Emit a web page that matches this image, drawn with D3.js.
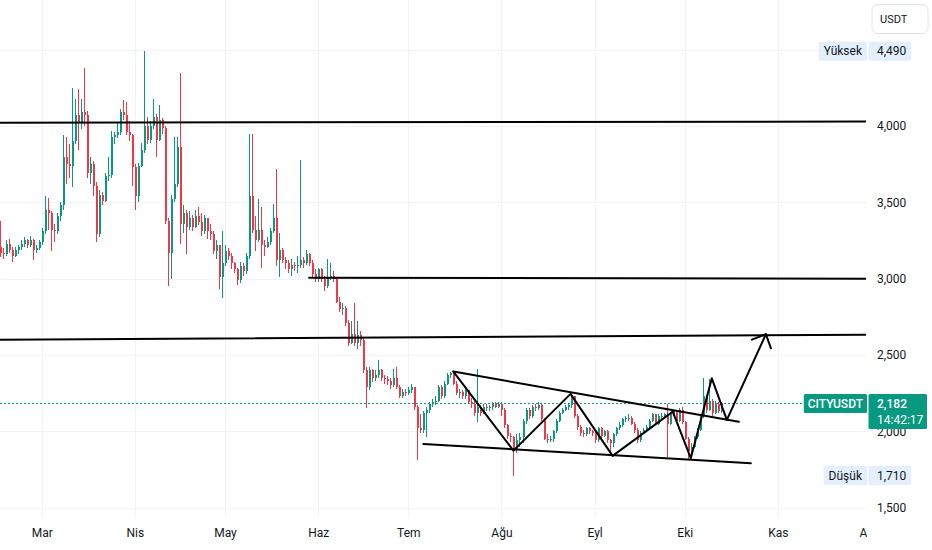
<!DOCTYPE html>
<html>
<head>
<meta charset="utf-8">
<script src="https://cdn.jsdelivr.net/npm/d3@7"></script>
<style>
    html, body { margin: 0; padding: 0; background: #ffffff; }
    svg { display: block; font-family: Roboto, "Noto Sans", sans-serif; }
</style>
</head>
<body>
<div id="chart"></div>
<script>
// ---- data (daily candles, prices in USDT) ----
const symbol = "CITYUSDT";
const quoteCurrency = "USDT";
const countdown = "14:42:17";
const firstDay = "2024-02-16";
const lastAxisDay = "2024-12-01";
const firstOpen = 3.21;

const closes = [
    // Feb 16-29
    3.17, 3.16, 3.23, 3.19, 3.15, 3.19, 3.21, 3.23, 3.25, 3.22, 3.25, 3.19, 3.20, 3.24,
    // Mar
    3.31, 3.45, 3.43, 3.32, 3.31, 3.41, 3.48, 3.80, 3.75, 3.74, 3.90, 4.07, 4.02, 4.09, 4.07, 3.69,
    3.75, 3.61, 3.29, 3.55, 3.51, 3.67, 3.68, 3.93, 3.94, 3.96, 4.09, 4.07, 3.96, 3.94, 3.73,
    // Apr
    3.54, 3.74, 3.84, 4.00, 3.91, 4.00, 4.06, 3.91, 4.04, 3.99, 3.38, 3.17, 3.52, 3.62, 3.86,
    3.36, 3.43, 3.34, 3.40, 3.34, 3.41, 3.37, 3.31, 3.40, 3.31, 3.29, 3.18, 3.22, 3.01, 3.10,
    // May
    3.18, 3.15, 3.10, 3.06, 2.99, 3.08, 3.05, 3.15, 3.54, 3.32, 3.25, 3.32, 3.22, 3.21, 3.24, 3.31,
    3.40, 3.12, 3.19, 3.12, 3.10, 3.06, 3.09, 3.08, 3.09, 3.12, 3.10, 3.16, 3.10, 3.03, 3.00,
    // Jun
    3.06, 3.00, 2.95, 3.01, 3.02, 3.00, 2.85, 2.80, 2.81, 2.71, 2.58, 2.64, 2.58, 2.63, 2.60,
    2.40, 2.29, 2.40, 2.35, 2.37, 2.40, 2.35, 2.34, 2.33, 2.30, 2.35, 2.29, 2.23, 2.26, 2.25,
    // Jul
    2.27, 2.29, 2.16, 2.02, 2.01, 2.12, 2.14, 2.18, 2.19, 2.20, 2.29, 2.23, 2.31, 2.37, 2.38, 2.31,
    2.25, 2.26, 2.23, 2.27, 2.19, 2.18, 2.12, 2.16, 2.12, 2.16, 2.15, 2.16, 2.18, 2.16, 2.18,
    // Aug
    2.14, 2.04, 1.97, 1.96, 1.88, 1.94, 1.96, 2.07, 2.14, 2.10, 2.16, 2.15, 2.17, 2.08, 1.95, 1.94,
    1.95, 2.00, 2.07, 2.12, 2.14, 2.16, 2.17, 2.23, 2.10, 2.03, 1.99, 1.98, 2.02, 2.00, 1.99,
    // Sep
    1.94, 2.02, 1.97, 2.00, 1.94, 1.92, 1.98, 2.02, 2.04, 2.08, 2.085, 2.09, 2.05, 2.01, 1.94,
    1.99, 2.01, 2.03, 2.07, 2.11, 2.05, 2.10, 2.10, 2.11, 2.05, 2.11, 2.13, 2.07, 2.14, 2.06,
    // Oct 1-13
    1.95, 1.87, 1.90, 1.96, 2.01, 2.10, 2.23, 2.14, 2.20, 2.12, 2.18, 2.13, 2.182
];

const highs = [
    3.38, 3.20, 3.25, 3.26, 3.21, 3.21, 3.22, 3.25, 3.27, 3.26, 3.28, 3.26, 3.22, 3.25,
    3.33, 3.54, 3.53, 3.44, 3.36, 3.43, 3.50, 3.94, 3.93, 3.88, 4.25, 4.18, 4.24, 4.18, 4.38, 4.10,
    3.80, 3.77, 3.63, 3.58, 3.57, 3.69, 3.80, 3.97, 3.96, 4.02, 4.11, 4.17, 4.16, 4.03, 3.95,
    3.75, 3.76, 3.89, 4.49, 4.06, 4.03, 4.18, 4.08, 4.14, 4.05, 4.00, 3.40, 3.55, 3.93, 3.93,
    4.35, 3.48, 3.45, 3.44, 3.42, 3.45, 3.47, 3.43, 3.42, 3.38, 3.36, 3.31, 3.25, 3.22, 3.31,
    3.22, 3.20, 3.17, 3.11, 3.07, 3.11, 3.10, 3.17, 3.95, 3.95, 3.41, 3.52, 3.47, 3.25, 3.27, 3.33,
    3.49, 3.72, 3.30, 3.20, 3.14, 3.12, 3.13, 3.11, 3.15, 3.78, 3.14, 3.19, 3.17, 3.12, 3.06,
    3.07, 3.07, 3.02, 3.13, 3.10, 3.05, 3.01, 2.88, 2.84, 2.82, 2.73, 2.72, 2.84, 2.72, 2.66,
    2.61, 2.42, 2.42, 2.41, 2.40, 2.47, 2.41, 2.37, 2.36, 2.35, 2.41, 2.42, 2.30, 2.28, 2.28,
    2.29, 2.31, 2.29, 2.17, 2.11, 2.13, 2.16, 2.19, 2.21, 2.23, 2.30, 2.30, 2.33, 2.38, 2.39, 2.39,
    2.33, 2.28, 2.27, 2.29, 2.27, 2.22, 2.20, 2.41, 2.17, 2.18, 2.18, 2.17, 2.19, 2.19, 2.19,
    2.19, 2.15, 2.05, 1.99, 1.97, 1.98, 1.99, 2.08, 2.15, 2.15, 2.17, 2.18, 2.19, 2.18, 2.09, 1.98,
    1.97, 2.01, 2.08, 2.13, 2.15, 2.17, 2.18, 2.25, 2.23, 2.11, 2.04, 2.01, 2.03, 2.03, 2.01,
    2.00, 2.03, 2.03, 2.01, 2.01, 1.95, 1.99, 2.03, 2.06, 2.09, 2.10, 2.11, 2.10, 2.06, 2.02,
    2.00, 2.02, 2.04, 2.08, 2.12, 2.11, 2.11, 2.12, 2.12, 2.18, 2.12, 2.14, 2.14, 2.15, 2.16,
    2.07, 1.96, 1.92, 1.97, 2.02, 2.11, 2.35, 2.24, 2.34, 2.21, 2.20, 2.19, 2.19
];

const lows = [
    3.14, 3.13, 3.15, 3.17, 3.11, 3.14, 3.16, 3.19, 3.21, 3.20, 3.21, 3.12, 3.17, 3.19,
    3.22, 3.29, 3.32, 3.18, 3.24, 3.29, 3.38, 3.45, 3.62, 3.66, 3.60, 3.88, 3.84, 3.98, 4.00, 3.66,
    3.62, 3.54, 3.24, 3.27, 3.48, 3.50, 3.64, 3.66, 3.88, 3.92, 3.94, 4.04, 3.94, 3.90, 3.61,
    3.45, 3.50, 3.73, 3.82, 3.88, 3.89, 3.98, 3.80, 3.90, 3.95, 3.36, 2.95, 3.00, 3.50, 3.60,
    3.23, 3.30, 3.16, 3.32, 3.31, 3.33, 3.35, 3.28, 3.29, 3.26, 3.25, 3.16, 3.13, 2.93, 2.87,
    3.08, 3.12, 3.06, 3.04, 2.96, 2.97, 3.02, 3.03, 3.13, 3.30, 3.18, 3.24, 3.07, 3.15, 3.20, 3.22,
    3.30, 3.08, 3.01, 3.10, 3.06, 3.04, 3.02, 3.05, 3.04, 3.07, 3.07, 3.09, 3.08, 3.01, 2.98,
    2.98, 2.98, 2.92, 2.94, 2.99, 2.98, 2.84, 2.78, 2.76, 2.69, 2.56, 2.57, 2.56, 2.54, 2.56,
    2.38, 2.15, 2.27, 2.32, 2.33, 2.35, 2.33, 2.31, 2.30, 2.28, 2.29, 2.28, 2.22, 2.22, 2.23,
    2.24, 2.25, 2.14, 1.81, 1.99, 1.99, 1.96, 2.12, 2.16, 2.17, 2.19, 2.21, 2.22, 2.30, 2.35, 2.30,
    2.24, 2.22, 2.21, 2.21, 2.18, 2.15, 2.10, 2.06, 2.10, 2.11, 2.13, 2.13, 2.14, 2.15, 2.15,
    2.10, 2.02, 1.95, 1.93, 1.71, 1.86, 1.90, 1.92, 2.05, 2.08, 2.09, 2.13, 2.14, 2.07, 1.94, 1.92,
    1.93, 1.93, 1.99, 2.06, 2.11, 2.13, 2.14, 2.15, 2.09, 2.01, 1.97, 1.96, 1.97, 1.98, 1.97,
    1.92, 1.93, 1.95, 1.96, 1.92, 1.84, 1.90, 1.97, 2.01, 2.03, 2.06, 2.07, 2.04, 1.99, 1.92,
    1.93, 1.98, 2.00, 2.02, 2.06, 2.04, 2.04, 2.08, 2.09, 1.83, 2.04, 2.10, 2.06, 2.06, 2.05,
    1.94, 1.82, 1.85, 1.89, 1.95, 2.00, 2.09, 2.12, 2.13, 2.10, 2.11, 2.12, 2.12
];

const monthTicks = ["2024-03-01", "2024-04-01", "2024-05-01", "2024-06-01", "2024-07-01",
    "2024-08-01", "2024-09-01", "2024-10-01", "2024-11-01", "2024-12-01"];
const monthLabels = ["Mar", "Nis", "May", "Haz", "Tem", "Ağu", "Eyl", "Eki", "Kas", "Ara"];
const priceTicks = [1.5, 2.0, 2.5, 3.0, 3.5, 4.0, 4.5];
const priceDomain = [1.5, 4.0];

// hand drawn lines, anchored as [day, price]
const levelLines = [
    [["2024-02-16", 4.022], ["2024-12-03", 4.029]],
    [["2024-05-29", 3.006], ["2024-12-03", 3.000]],
    [["2024-02-16", 2.600], ["2024-12-03", 2.633]]
];
const wedgeTop = [["2024-07-16", 2.391], ["2024-10-19", 2.063]];
const wedgeBottom = [["2024-07-06", 1.917], ["2024-10-23", 1.791]];
const zigzag = [["2024-07-16", 2.391], ["2024-08-05", 1.873], ["2024-08-24", 2.245],
    ["2024-09-07", 1.839], ["2024-09-27", 2.129], ["2024-10-03", 1.824],
    ["2024-10-10", 2.347], ["2024-10-15", 2.075], ["2024-10-28", 2.636]];

const highLabel = "Yüksek";
const lowLabel = "Düşük";

const parseDay = d3.utcParse("%Y-%m-%d");
const priceFormat = d3.formatLocale({
    decimal: ",", thousands: ".", grouping: [3], currency: ["", ""]
}).format(".3f");

class CandleChartCreator {
    constructor(element) {
        this.width = 932;
        this.height = 550;
        this.plotWidth = 866;
        this.plotHeight = 518;
        this.pxPerDay = 3.005;
        this.up = "#089981";
        this.down = "#f23645";
        this.textColor = "#131722";
        this.wrapperElement = d3.select(element);

        var start = parseDay(firstDay);
        this.candles = closes.map((c, i) => ({
            date: d3.utcDay.offset(start, i),
            open: i === 0 ? firstOpen : closes[i - 1],
            high: highs[i],
            low: lows[i],
            close: c
        }));
        return this;
    }

    /**
     *  Builds the whole chart: grid, candles, drawings, axes and labels
     */
    create() {
        this.canvas = this.mainCanvas();
        this.makeScales();
        this.addGrid();
        this.plot = this.plotGroup();
        this.addCandles();
        this.addPriceLine();
        this.addDrawings();
        this.addPriceAxis();
        this.addTimeAxis();
        this.addPriceLabels();
        this.addCurrencyButton();
        return this;
    }

    mainCanvas() {
        return this.wrapperElement.append("svg")
            .attr("width", this.width)
            .attr("height", this.height)
            .attr("viewBox", "0 0 " + this.width + " " + this.height);
    }

    makeScales() {
        var start = parseDay(firstDay);
        var end = parseDay(lastAxisDay);
        var days = d3.utcDay.count(start, end);
        this.x = d3.scaleUtc()
            .domain([start, end])
            .range([-0.37, -0.37 + days * this.pxPerDay]);
        this.y = d3.scaleLinear()
            .domain(priceDomain)
            .range([507.6, 126]);
    }

    /**
     * Clipped group for everything drawn inside the pane
     */
    plotGroup() {
        this.canvas.append("clipPath").attr("id", "pane")
            .append("rect")
            .attr("width", this.plotWidth)
            .attr("height", this.plotHeight);
        return this.canvas.append("g").attr("clip-path", "url(#pane)");
    }

    addGrid() {
        var grid = this.canvas.append("g").attr("stroke", "#f0f3fa").attr("stroke-width", 1);
        grid.selectAll(".vgrid")
            .data(monthTicks.filter((d) => this.x(parseDay(d)) < this.plotWidth))
            .enter()
            .append("line")
            .attr("x1", (d) => Math.round(this.x(parseDay(d))) + 0.5)
            .attr("x2", (d) => Math.round(this.x(parseDay(d))) + 0.5)
            .attr("y1", 0)
            .attr("y2", this.plotHeight);
        grid.selectAll(".hgrid")
            .data(priceTicks)
            .enter()
            .append("line")
            .attr("x1", 0)
            .attr("x2", this.plotWidth)
            .attr("y1", (d) => Math.round(this.y(d)) + 0.5)
            .attr("y2", (d) => Math.round(this.y(d)) + 0.5);
    }

    addCandles() {
        var color = (d) => d.close >= d.open ? this.up : this.down;
        var top = (d) => Math.round(this.y(Math.max(d.open, d.close)));
        var bottom = (d) => Math.round(this.y(Math.min(d.open, d.close)));
        var candle = this.plot.selectAll(".candle")
            .data(this.candles)
            .enter()
            .append("g")
            .attr("class", "candle")
            .attr("shape-rendering", "crispEdges")
            .attr("fill", color);

        //Wick
        candle.append("rect")
            .attr("x", (d) => Math.round(this.x(d.date)))
            .attr("width", 1)
            .attr("y", (d) => Math.round(this.y(Math.max(d.high, d.open, d.close))))
            .attr("height", (d) => Math.max(1, Math.round(this.y(Math.min(d.low, d.open, d.close)))
                - Math.round(this.y(Math.max(d.high, d.open, d.close)))));

        //Body
        candle.append("rect")
            .attr("x", (d) => Math.round(this.x(d.date)) - 0.5)
            .attr("width", 2)
            .attr("y", top)
            .attr("height", (d) => Math.max(1, bottom(d) - top(d)));
    }

    addPriceLine() {
        var last = this.candles[this.candles.length - 1];
        this.plot.append("line")
            .attr("x1", 0)
            .attr("x2", this.plotWidth)
            .attr("y1", Math.round(this.y(last.close)) + 0.5)
            .attr("y2", Math.round(this.y(last.close)) + 0.5)
            .attr("stroke", this.up)
            .attr("stroke-width", 1)
            .attr("shape-rendering", "crispEdges")
            .attr("stroke-dasharray", "2,2");
    }

    point(p) {
        return [this.x(parseDay(p[0])), this.y(p[1])];
    }

    addDrawings() {
        var line = d3.line();
        var layer = this.plot.append("g")
            .attr("fill", "none")
            .attr("stroke", "#000000")
            .attr("stroke-width", 2)
            .attr("stroke-linecap", "round")
            .attr("stroke-linejoin", "round");

        levelLines.concat([wedgeTop, wedgeBottom]).forEach((seg) => {
            layer.append("path").attr("d", line(seg.map((p) => this.point(p))));
        });

        var pts = zigzag.map((p) => this.point(p));
        layer.append("path").attr("d", line(pts));

        // arrow head on the last leg
        var a = pts[pts.length - 2];
        var b = pts[pts.length - 1];
        var ang = Math.atan2(b[1] - a[1], b[0] - a[0]) + Math.PI;
        var len = 15;
        var spread = 0.77;
        var wing1 = [b[0] + len * Math.cos(ang - spread), b[1] + len * Math.sin(ang - spread)];
        var wing2 = [b[0] + len * Math.cos(ang + spread), b[1] + len * Math.sin(ang + spread)];
        layer.append("path").attr("d", line([wing1, b, wing2]));
    }

    addPriceAxis() {
        var axis = d3.axisRight(this.y)
            .tickValues(priceTicks)
            .tickSize(0)
            .tickPadding(11)
            .tickFormat(priceFormat);
        var g = this.canvas.append("g")
            .attr("transform", "translate(" + this.plotWidth + ",0)")
            .call(axis);
        g.select(".domain").remove();
        g.selectAll("text")
            .attr("fill", this.textColor)
            .attr("font-size", "12px")
            .attr("font-family", "Roboto, sans-serif");
    }

    addTimeAxis() {
        this.canvas.append("clipPath").attr("id", "timeclip")
            .append("rect")
            .attr("y", this.plotHeight)
            .attr("width", this.plotWidth + 1)
            .attr("height", this.height - this.plotHeight);
        var axis = d3.axisBottom(this.x)
            .tickValues(monthTicks.map(parseDay))
            .tickSize(0)
            .tickPadding(10)
            .tickFormat((d, i) => monthLabels[i]);
        var g = this.canvas.append("g")
            .attr("clip-path", "url(#timeclip)")
            .append("g")
            .attr("transform", "translate(0," + this.plotHeight + ")")
            .call(axis);
        g.select(".domain").remove();
        g.selectAll("text")
            .attr("fill", this.textColor)
            .attr("font-size", "12px")
            .attr("font-family", "Roboto, sans-serif");
    }

    /**
     * Label pair on the price scale: a caption tag left of it and a value tag on it
     */
    addTag(caption, value, bg, fg) {
        var yPos = this.y(value);
        var g = this.canvas.append("g").attr("font-size", "12px");
        var cap = g.append("text")
            .attr("text-anchor", "middle")
            .attr("dy", "0.35em")
            .attr("y", yPos)
            .attr("fill", fg)
            .text(caption);
        var capWidth = cap.node().getComputedTextLength() + 10;
        cap.attr("x", this.plotWidth + 1 - capWidth / 2);
        g.insert("rect", "text")
            .attr("x", this.plotWidth + 1 - capWidth)
            .attr("y", yPos - 9.5)
            .attr("width", capWidth)
            .attr("height", 19)
            .attr("fill", bg);

        var val = g.append("text")
            .attr("x", this.plotWidth + 11)
            .attr("y", yPos)
            .attr("dy", "0.35em")
            .attr("fill", fg)
            .text(priceFormat(value));
        g.insert("rect", "text")
            .attr("x", this.plotWidth + 2.5)
            .attr("y", yPos - 9.5)
            .attr("width", val.node().getComputedTextLength() + 13)
            .attr("height", 19)
            .attr("fill", bg);
    }

    addPriceLabels() {
        var tagBg = "#e3effd";
        this.addTag(highLabel, d3.max(highs), tagBg, this.textColor);
        this.addTag(lowLabel, d3.min(lows), tagBg, this.textColor);

        var last = this.candles[this.candles.length - 1];
        var yPos = this.y(last.close);
        var g = this.canvas.append("g").attr("font-size", "12px").attr("fill", "#ffffff");

        //Symbol tag
        var sym = g.append("text")
            .attr("text-anchor", "middle")
            .attr("y", yPos)
            .attr("dy", "0.35em")
            .attr("font-weight", 500)
            .text(symbol);
        var symWidth = sym.node().getComputedTextLength() + 8;
        sym.attr("x", this.plotWidth + 1 - symWidth / 2);
        g.insert("rect", "text")
            .attr("x", this.plotWidth + 1 - symWidth)
            .attr("y", yPos - 9.5)
            .attr("width", symWidth)
            .attr("height", 19)
            .attr("rx", 1.5)
            .attr("fill", this.up);

        //Last price tag with countdown
        g.append("rect")
            .attr("x", this.plotWidth + 2.5)
            .attr("y", yPos - 9.5)
            .attr("width", 58.5)
            .attr("height", 35)
            .attr("rx", 1.5)
            .attr("fill", this.up);
        g.append("text")
            .attr("x", this.plotWidth + 11)
            .attr("y", yPos)
            .attr("dy", "0.35em")
            .attr("font-weight", 500)
            .text(priceFormat(last.close));
        g.append("text")
            .attr("x", this.plotWidth + 11)
            .attr("y", yPos + 16)
            .attr("dy", "0.35em")
            .text(countdown);
    }

    addCurrencyButton() {
        var g = this.canvas.append("g");
        g.append("rect")
            .attr("x", this.plotWidth + 6)
            .attr("y", 4.5)
            .attr("width", 56)
            .attr("height", 29)
            .attr("rx", 6)
            .attr("fill", "#ffffff")
            .attr("stroke", "#e0e3eb");
        g.append("text")
            .attr("x", this.plotWidth + 14)
            .attr("y", 19)
            .attr("dy", "0.35em")
            .attr("font-size", "11px")
            .attr("fill", this.textColor)
            .text(quoteCurrency);
    }
}

new CandleChartCreator("#chart").create();
</script>
</body>
</html>
